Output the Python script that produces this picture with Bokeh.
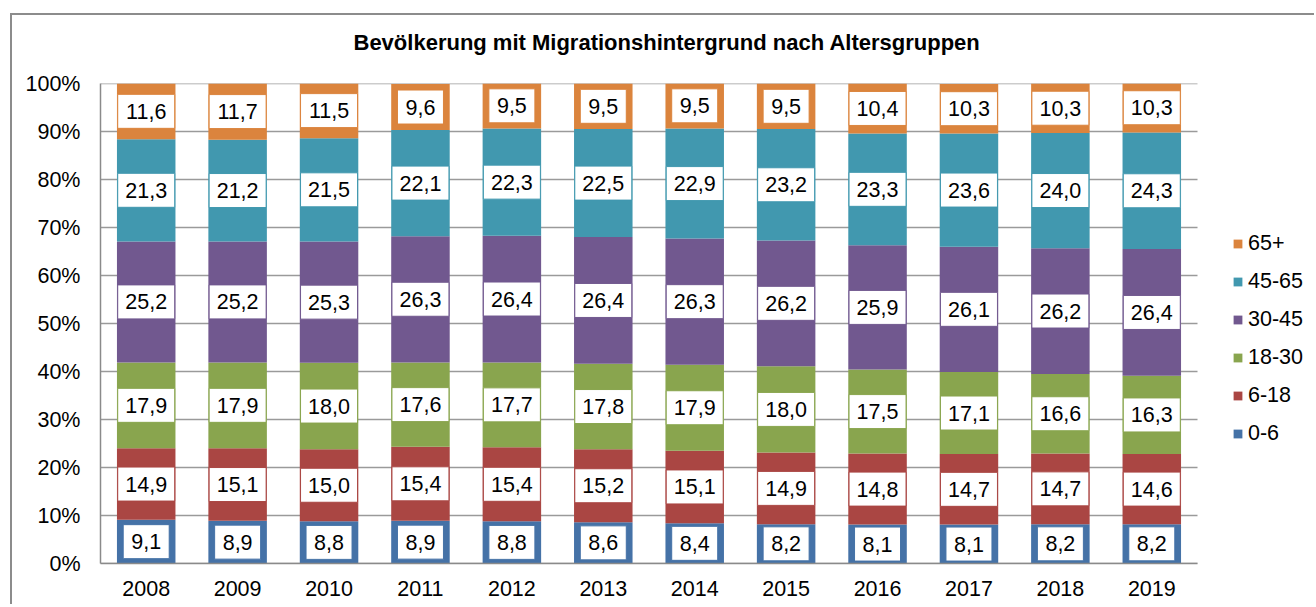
from bokeh.plotting import figure
from bokeh.models import ColumnDataSource, FixedTicker, Legend, LegendItem, Range1d, Title
from bokeh.core.properties import value
from bokeh.embed import file_html
from bokeh.resources import INLINE

years = ["2008", "2009", "2010", "2011", "2012", "2013", "2014", "2015", "2016", "2017", "2018", "2019"]
groups = ["0-6", "6-18", "18-30", "30-45", "45-65", "65+"]
v_0_6 = [9.1, 8.9, 8.8, 8.9, 8.8, 8.6, 8.4, 8.2, 8.1, 8.1, 8.2, 8.2]
v_6_18 = [14.9, 15.1, 15.0, 15.4, 15.4, 15.2, 15.1, 14.9, 14.8, 14.7, 14.7, 14.6]
v_18_30 = [17.9, 17.9, 18.0, 17.6, 17.7, 17.8, 17.9, 18.0, 17.5, 17.1, 16.6, 16.3]
v_30_45 = [25.2, 25.2, 25.3, 26.3, 26.4, 26.4, 26.3, 26.2, 25.9, 26.1, 26.2, 26.4]
v_45_65 = [21.3, 21.2, 21.5, 22.1, 22.3, 22.5, 22.9, 23.2, 23.3, 23.6, 24.0, 24.3]
v_65 = [11.6, 11.7, 11.5, 9.6, 9.5, 9.5, 9.5, 9.5, 10.4, 10.3, 10.3, 10.3]
y_ticks = [0, 10, 20, 30, 40, 50, 60, 70, 80, 90, 100]
title = "Bevölkerung mit Migrationshintergrund nach Altersgruppen"

series = [v_0_6, v_6_18, v_18_30, v_30_45, v_45_65, v_65]
colors = ["#4572A7", "#AA4643", "#89A54E", "#71588F", "#4198AF", "#DB843D"]
FONT = "Liberation Sans"

# canvas placed at page (12, 15) inside a 2px left/top border
W, H = 1304, 591
MB_LEFT, MB_TOP = 88, 68
MB_BOTTOM = H - 548
CAT_PX = 1097.0 / 12.0
frame_w = W - MB_LEFT
x_idx = list(range(len(years)))
x_start = -0.5
x_cat_end = len(years) - 0.5
x_end = x_start + frame_w / CAT_PX

data = {"x": x_idx}
keys = []
for i, s in enumerate(series):
    k = "s%d" % i
    keys.append(k)
    data[k] = s
source = ColumnDataSource(data)

p = figure(x_range=Range1d(x_start, x_end), y_range=Range1d(0, 100), width=W, height=H,
           output_backend="svg", toolbar_location=None,
           min_border_left=MB_LEFT, min_border_right=0, min_border_top=MB_TOP, min_border_bottom=MB_BOTTOM)
p.margin = (13, 0, 0, 10)
p.styles = {"border-left": "2px solid #8c8c8c", "border-top": "2px solid #8c8c8c"}
p.outline_line_color = None
p.background_fill_color = "white"
p.border_fill_color = "white"

# horizontal gridlines only across the category area
p.segment(x0=[x_start] * len(y_ticks), x1=[x_cat_end] * len(y_ticks), y0=y_ticks, y1=y_ticks,
          line_color="#9a9a9a", line_width=1.5)

renderers = p.vbar_stack(keys, x="x", width=0.64, color=colors, source=source, line_width=0)

# data labels
cum = [0.0] * len(years)
for i, s in enumerate(series):
    mids = []
    lbls = []
    widths = []
    for j, v in enumerate(s):
        mids.append(cum[j] + v / 2.0)
        cum[j] += v
        t = ("%.1f" % v).replace(".", ",")
        lbls.append(t)
        widths.append(57 if len(t) >= 4 else 46)
    ls = ColumnDataSource({"x": x_idx, "mid": mids, "lbl": lbls, "bw": widths})
    p.rect(x="x", y="mid", width="bw", height=34, width_units="screen", height_units="screen",
           fill_color="white", line_color=colors[i], line_width=1, source=ls)
    p.text(x="x", y="mid", text="lbl", text_align="center", text_baseline="middle",
           text_font=value(FONT), text_font_size="21.5px", text_color="black", source=ls)

# spacer between title and frame
p.add_layout(Title(text=" ", text_font_size="1px", standoff=26), "above")

# title
p.title.text = title
p.title.align = "left"
p.title.offset = 253
p.title.text_font = FONT
p.title.text_font_size = "22px"
p.title.text_font_style = "bold"
p.title.text_color = "black"
p.title.standoff = 0

# axes
p.xaxis.ticker = FixedTicker(ticks=x_idx)
p.xaxis.major_label_overrides = {i: y for i, y in zip(x_idx, years)}
p.xaxis.bounds = (x_start, x_cat_end)
p.yaxis.ticker = FixedTicker(ticks=y_ticks)
p.yaxis.major_label_overrides = {t: "%d%%" % t for t in y_ticks}
for ax in (p.xaxis, p.yaxis):
    ax.major_label_text_font = FONT
    ax.major_label_text_font_size = "21.5px"
    ax.major_label_text_color = "black"
    ax.axis_line_color = "#8a8a8a"
    ax.axis_line_width = 1.5
    ax.major_tick_line_color = None
    ax.minor_tick_line_color = None
    ax.major_tick_out = 0
    ax.major_tick_in = 0
p.yaxis.major_label_standoff = 20
p.xaxis.major_label_standoff = 17
p.xgrid.grid_line_color = None
p.ygrid.grid_line_color = None

# legend (65+ on top)
items = [LegendItem(label=groups[i], renderers=[renderers[i]]) for i in range(len(groups) - 1, -1, -1)]
legend = Legend(items=items, location=(1132, 117), orientation="vertical",
                padding=0, margin=0, spacing=13, label_height=24,
                glyph_width=11, glyph_height=11, label_standoff=5,
                label_text_font=FONT, label_text_font_size="21.5px", label_text_color="black",
                border_line_color=None, background_fill_alpha=0)
p.add_layout(legend)

open("out.html", "w").write(file_html(p, INLINE))
